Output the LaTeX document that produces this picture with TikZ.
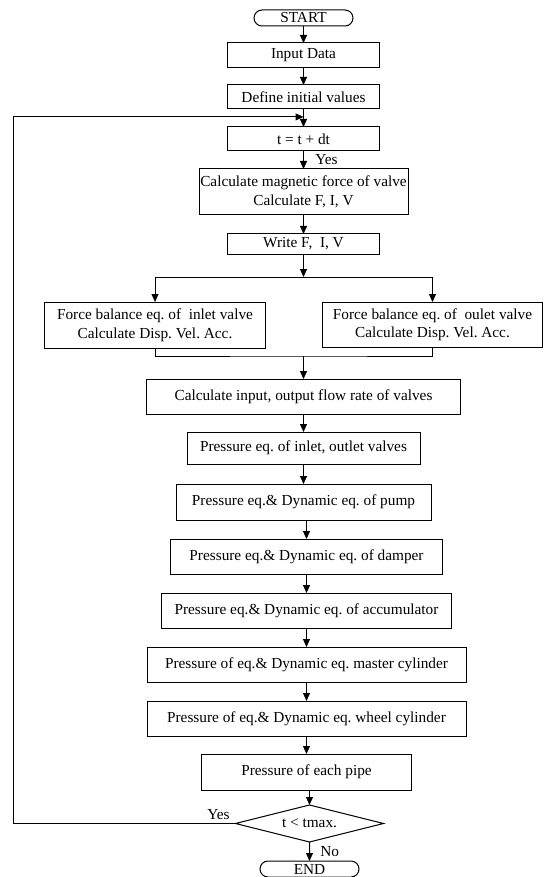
\documentclass[tikz,border=0pt]{standalone}
\usepackage{fontspec}
\setmainfont{Liberation Serif}
\usetikzlibrary{shapes.geometric, shapes.misc, arrows.meta, positioning, calc}

\begin{document}
\frenchspacing
\begin{tikzpicture}[
    x=1pt, y=1pt,
    node distance=18pt,
    every node/.style={align=center, font=\fontsize{15.3}{18.5}\selectfont},
    terminal/.style={rounded rectangle, draw=black, line width=1pt, minimum width=99pt, minimum height=16pt, inner sep=0pt, outer sep=0pt},
    process/.style={rectangle, draw=black, line width=1pt, minimum height=24pt, inner sep=1pt, outer sep=0pt},
    decision/.style={diamond, aspect=4, draw=black, line width=1pt, minimum width=148pt, minimum height=37pt, inner sep=0pt, outer sep=0pt},
    arrow/.style={line width=1pt, -{Triangle[length=8pt, width=7pt]}},
    line/.style={line width=1pt}
]

\path[use as bounding box, fill=white] (0,0) rectangle (545,-877);

% Start and setup
\node (start) [terminal] at (303.5,-18) {START};
\node (input) [process, minimum width=152pt, minimum height=25pt, below=17pt of start] {Input Data};
\node (init) [process, minimum width=152pt, below=17pt of input] {Define initial values};

% Time step loop
\node (tstep) [process, minimum width=152pt, below=18pt of init] {t = t + dt};
\node (magnet) [process, minimum width=209pt, minimum height=46pt, below=18pt of tstep] {Calculate magnetic force of valve\\Calculate F, I, V};
\node (write) [process, minimum width=152pt, minimum height=20pt, below=19pt of magnet] {Write F, \ I, V};

% Valve force balance
\node (inletv) [process, minimum width=221pt, minimum height=46pt, below=48pt of write, xshift=-148.5pt] {Force balance eq. of \ inlet valve\\Calculate Disp. Vel. Acc.};
\node (outletv) [process, minimum width=220pt, minimum height=45pt, below=48pt of write, xshift=129pt] {Force balance eq. of \ oulet valve\\Calculate Disp. Vel. Acc.};

% Pressure and dynamic equations
\node (flow) [process, minimum width=314pt, minimum height=35pt, below=125pt of write] {Calculate input, output flow rate of valves};
\node (press) [process, minimum width=233pt, minimum height=32pt, below=18pt of flow] {Pressure eq. of inlet, outlet valves};
\node (pump) [process, minimum width=255pt, minimum height=36pt, below=20pt of press] {Pressure eq.\& Dynamic eq. of pump};
\node (damper) [process, minimum width=272pt, minimum height=35pt, below=19pt of pump, xshift=3pt] {Pressure eq.\& Dynamic eq. of damper};
\node (accum) [process, minimum width=290pt, minimum height=35pt, below=19pt of damper] {Pressure eq.\& Dynamic eq. of accumulator};
\node (master) [process, minimum width=319pt, minimum height=35pt, below=19pt of accum] {Pressure of eq.\& Dynamic eq. master cylinder};
\node (wheel) [process, minimum width=319pt, minimum height=35pt, below=19pt of master] {Pressure of eq.\& Dynamic eq. wheel cylinder};
\node (pipe) [process, minimum width=210pt, minimum height=36pt, below=18pt of wheel] {Pressure of each pipe};

% Check and end
\node (check) [decision, below=15pt of pipe, xshift=3pt] {t < tmax.};
\node (finish) [terminal, below=19pt of check] {END};

% Helper points
\coordinate (join) at ($(init.south)!0.44!(tstep.north)$);
\coordinate (split) at ($(write.south)+(0,-23)$);
\coordinate (merge) at ($(inletv.south -| write)+(0,-8)$);
\coordinate (loopleft) at (13,0);

% Arrows
\draw [arrow] (start) -- (input);
\draw [arrow] (input) -- (init);
\draw [arrow] (init) -- (tstep);
\draw [arrow] (tstep) -- node[right, xshift=8pt] {Yes} (magnet);
\draw [arrow] (magnet) -- (write);
\draw [arrow] (write) -- (split);
\draw [arrow] (split) -| (inletv);
\draw [arrow] (split) -| (outletv);
\draw [line] (inletv) |- (merge) -| (outletv);
\draw [arrow] (merge) -- (flow);
\draw [arrow] (flow) -- (press);
\draw [arrow] (press) -- (pump);
\draw [arrow] (pump.south -| damper.north) -- (damper);
\draw [arrow] (damper) -- (accum);
\draw [arrow] (accum) -- (master);
\draw [arrow] (master) -- (wheel);
\draw [arrow] (wheel) -- (pipe);
\draw [arrow] (pipe.south -| check.north) -- (check);
\draw [arrow] (check) -- node[right, xshift=7pt] {No} (finish);

% Loop back
\draw [arrow] (check.west) node[above left, xshift=-2pt] {Yes} -- (check.west -| loopleft) |- (join);

\end{tikzpicture}
\end{document}
